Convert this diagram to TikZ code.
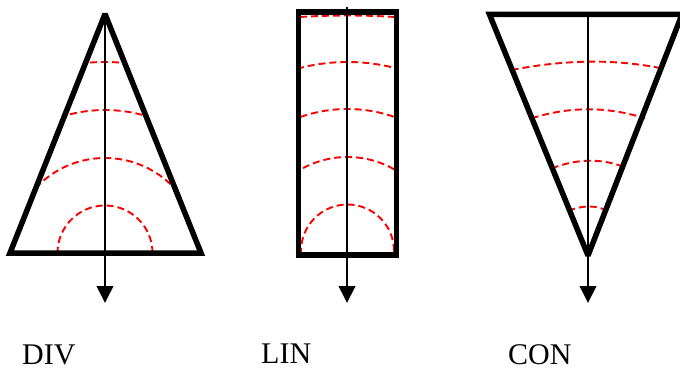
\documentclass[tikz,border=0pt]{standalone}
\usepackage{fontspec}
\setmainfont{Liberation Serif}
\usetikzlibrary{arrows.meta}
\begin{document}
\begin{tikzpicture}[x=1pt,y=-1pt,
  outline/.style={line width=5.5pt, line join=miter, miter limit=2},
  axis/.style={line width=2pt, -{Triangle[length=17pt,width=16.5pt]}},
  wave/.style={red, line width=1.9pt, dash pattern=on 7pt off 4pt},
  lbl/.style={anchor=base west, inner sep=0pt, font=\fontsize{30}{36}\selectfont}]
\useasboundingbox (0,0) rectangle (680,369);
\clip (0,0) rectangle (680,369);

% ---------- DIV ----------
\coordinate (d1) at (10,253);
\coordinate (d2) at (105,14);
\coordinate (d3) at (201,253);
\coordinate (dc) at (105,253);
\coordinate (dtop) at (105,13);
\coordinate (dtip) at (105,303);
\begin{scope}
  \clip (d1) -- (d2) -- (d3) -- cycle;
  \foreach \r in {47.5,95,143,191} \draw[wave] (dc) circle[radius=\r pt];
\end{scope}
\draw[outline] (d1) -- (d2) -- (d3) -- cycle;
\draw[axis] (dtop) -- (dtip);

% ---------- LIN ----------
\coordinate (l1) at (298.5,12);
\coordinate (l2) at (396.5,255);
\coordinate (lc) at (347.5,251);
\coordinate (ltop) at (347,7);
\coordinate (ltip) at (347,303);
\begin{scope}
  \clip (l1) rectangle (l2);
  \foreach \r in {46.5,94,142,189} \draw[wave] (lc) circle[radius=\r pt];
\end{scope}
\draw[wave] (300,17) .. controls (332,15) and (364,15) .. (395,17);
\draw[outline] (l1) rectangle (l2);
\draw[axis] (ltop) -- (ltip);

% ---------- CON ----------
\coordinate (c1) at (489.5,14.5);
\coordinate (c2) at (682,14.5);
\coordinate (c3) at (588,255.5);
\coordinate (ctop) at (588,15);
\coordinate (ctip) at (588,303);
\draw[wave] (511.7,70) .. controls (561,60.3) and (611,58.3) .. (660,68);
\draw[wave] (531.7,118.3) .. controls (569.5,106.3) and (607.2,106.3) .. (645,118.3);
\draw[wave] (551.7,168.3) .. controls (575.6,159.3) and (599.4,157.7) .. (623.3,166.7);
\draw[wave] (568.3,210.7) .. controls (580,206.4) and (591.6,204.7) .. (603.3,209);
\draw[outline] (c1) -- (c2) -- (c3) -- cycle;
\draw[axis] (ctop) -- (ctip);

% ---------- labels ----------
\node[lbl] (tdiv) at (22,364) {DIV};
\node[lbl] (tlin) at (261,363.5) {LIN};
\node[lbl] (tcon) at (508,364) {CON};
\end{tikzpicture}
\end{document}
